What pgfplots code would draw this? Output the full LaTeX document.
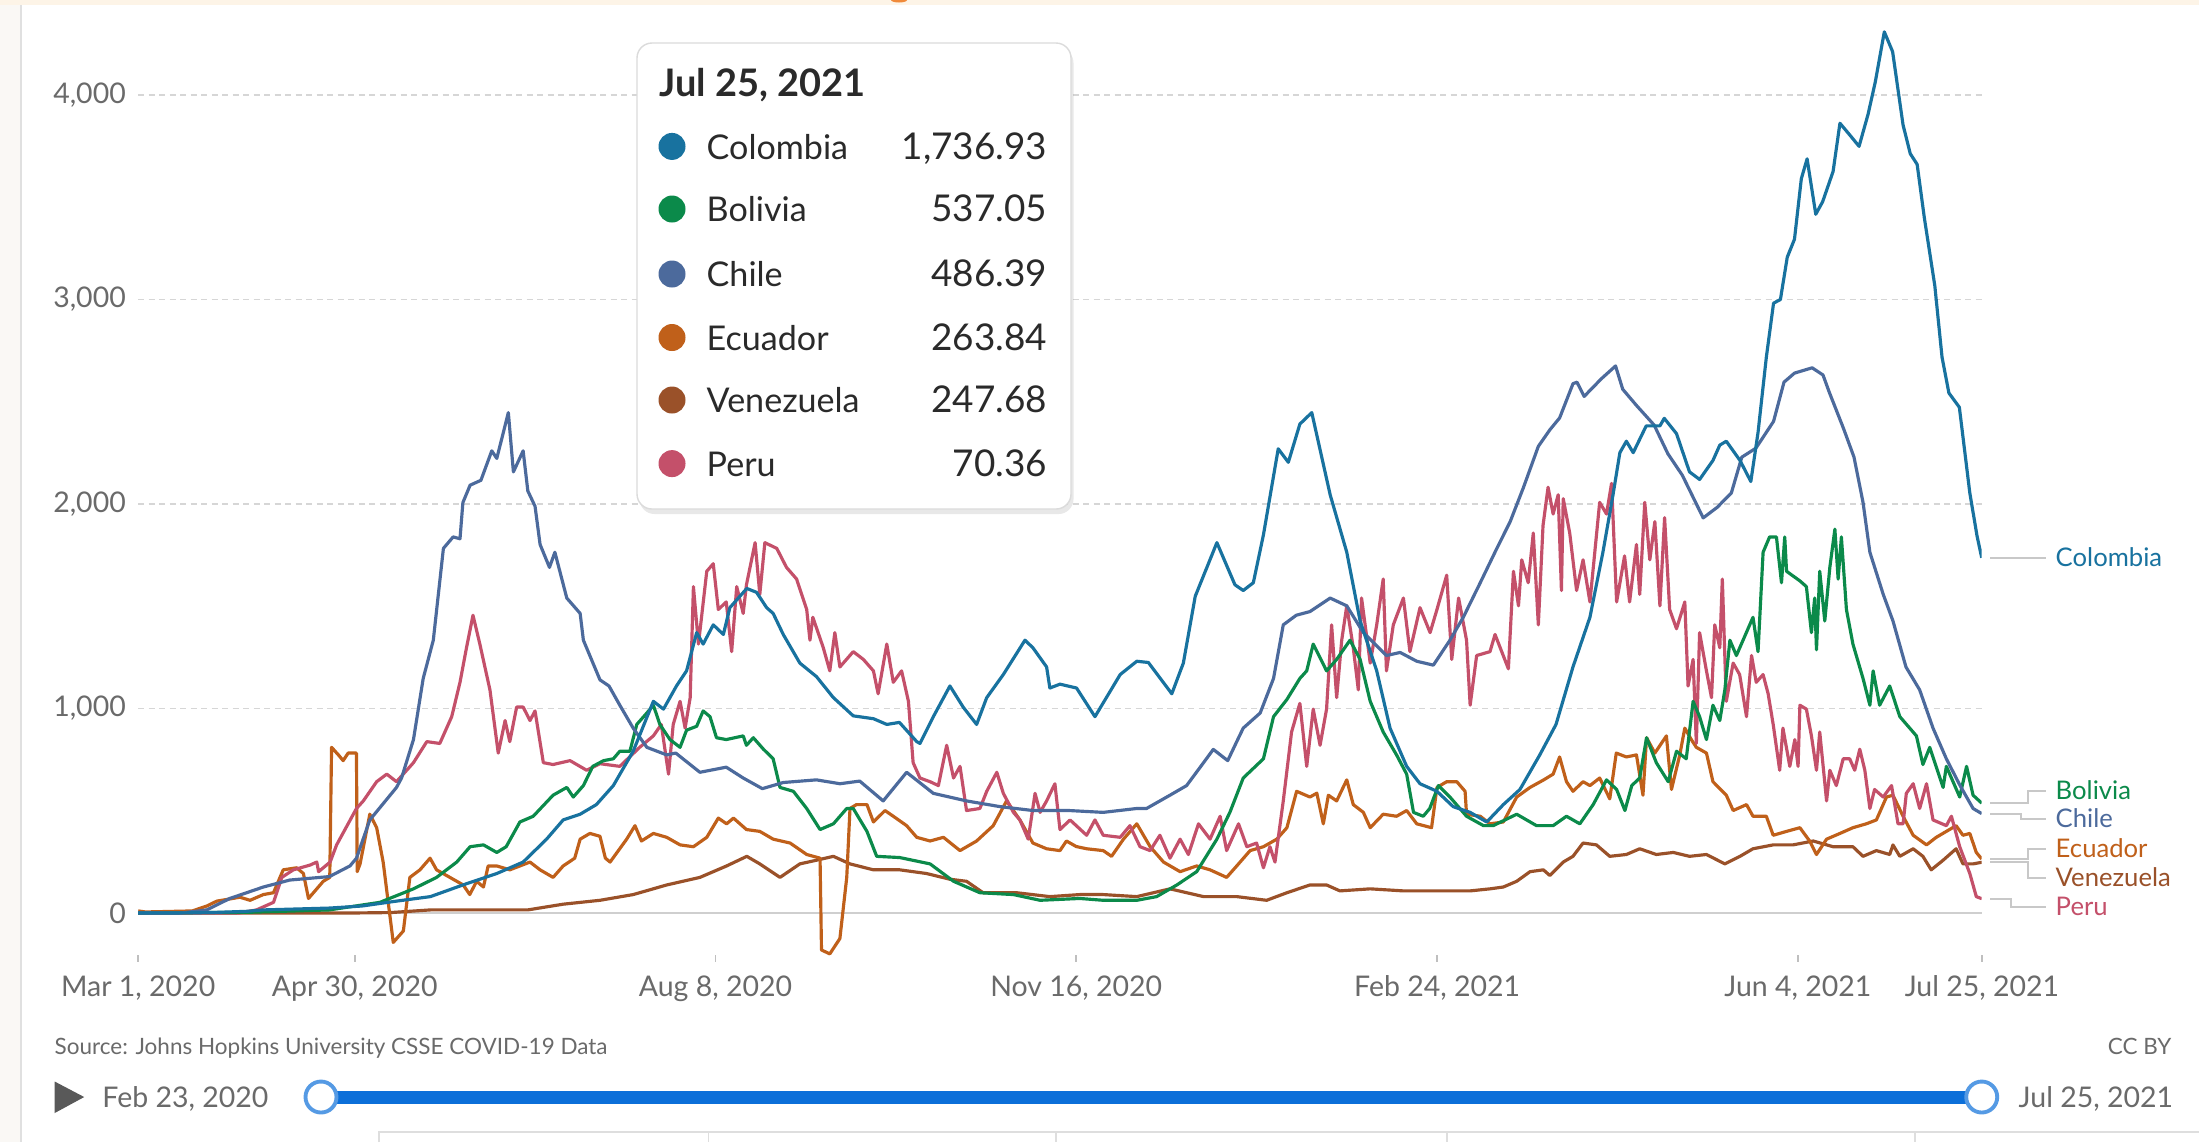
\documentclass[border=0pt]{standalone}
\usepackage{pgfplots}
\pgfplotsset{compat=1.18}
\usepackage{fontspec}
\setmainfont{Lato}
\usetikzlibrary{shadows}
\definecolor{colCo}{HTML}{18729F}
\definecolor{colBo}{HTML}{0B8A4A}
\definecolor{colCh}{HTML}{4C6A9C}
\definecolor{colEc}{HTML}{C0601A}
\definecolor{colVe}{HTML}{9A5129}
\definecolor{colPe}{HTML}{C4506A}
\definecolor{gridgray}{HTML}{D6D6D6}
\definecolor{zerogray}{HTML}{CFCFCF}
\definecolor{labelgray}{HTML}{6A6A6A}
\definecolor{txtdark}{HTML}{2A2A2A}
\definecolor{slider}{HTML}{0C6FD9}
\definecolor{bgcream}{HTML}{FDF4E7}
\definecolor{leftgray}{HTML}{FAF8F5}
\definecolor{leadergray}{HTML}{C8C8C8}
\definecolor{titleorange}{HTML}{F08A3A}
\begin{document}
\begin{tikzpicture}
\useasboundingbox (0,0) rectangle (21.99cm,-11.42cm);
\fill[white] (0,0) rectangle (21.99cm,-11.42cm);
\begin{scope}[x=0.1mm,y=-0.1mm]
 \fill[bgcream] (0,0) rectangle (2199,5);
 \fill[titleorange] (891,0) -- (907,0) arc[start angle=0, end angle=-180, x radius=0.8mm, y radius=0.25mm] -- cycle;
 \fill[leftgray] (0,5) rectangle (21,1142);
 \draw[black!12, line width=0.5pt] (21,5) -- (21,1142);
\end{scope}
\begin{axis}[
 at={(1.382cm,-9.743cm)}, anchor=south west,
 scale only axis, width=18.435cm, height=9.611cm,
 xmin=0, xmax=511, ymin=-300, ymax=4400,
 axis line style={draw=none}, tick style={draw=none},
 xtick=\empty,
 ytick={1000,2000,3000,4000},
 extra y ticks={0},
 extra y tick style={grid style={solid, draw=zerogray, line width=0.7pt}},
 ymajorgrids,
 grid style={draw=gridgray, dash pattern=on 0.6mm off 0.45mm, line width=0.45pt},
 yticklabel style={font=\fontsize{8.1}{9}\selectfont, text=labelgray},
 /pgf/number format/1000 sep={,},
 /pgf/number format/assume math mode=true,
 clip mode=individual,
 every axis plot/.append style={line width=0.9pt, line join=round, mark=none},
]
\addplot[colVe] coordinates {(0,0)(60,0)(70,2)(81,15)(99.4,15)(108,15)(117.8,43)(128,62)(137.2,90)(146.5,137)(155.7,174)(163.1,230)(168.7,277)(172.3,240)(177.9,174)(183.4,240)(188,258)(192.7,277)(197.3,240)(203.8,211)(211.1,211)(218.5,193)(225,165)(229.6,155)(234.2,99)(243.5,99)(252.7,80)(261,90)(267.5,90)(276.8,80)(286,118)(295.3,80)(304.5,80)(312.8,62)(318.4,99)(324.8,137)(329.4,137)(333.1,108)(341.5,118)(350.7,108)(360,108)(369.2,108)(374.7,118)(378.4,127)(382.1,155)(385.8,202)(389.5,211)(391.3,183)(395,249)(397.7,277)(400.5,342)(404.2,333)(407.9,277)(412.5,286)(416.2,314)(420.8,286)(425.5,296)(430,277)(434.7,286)(439.8,240)(444,277)(447.6,314)(453.2,333)(458.7,333)(464.3,352)(469.8,324)(475.3,324)(478.1,277)(481.8,305)(485.5,286)(486.4,333)(488.3,277)(492,314)(494.7,277)(497,211)(500.3,258)(503.9,314)(505.8,240)(508.6,240)(511,248)};
\addplot[colEc] coordinates {(0,10)(2,5)(15,10)(19,34)(21.8,58)(28.2,77)(31,62)(34.7,90)(37.5,99)(40.2,211)(43.9,221)(45.8,193)(47.2,71)(49.5,118)(51.3,155)(53.1,174)(53.6,810)(55.5,773)(56.8,745)(58.2,782)(60.5,782)(60.7,202)(61.5,240)(64.2,483)(66.1,417)(67.9,249)(70.7,-144)(73.5,-88)(75.3,174)(78.1,211)(80.9,268)(82.7,211)(86.4,174)(90.1,137)(91.9,90)(93.8,155)(95.7,127)(97,230)(99.4,230)(103,211)(108.6,249)(111.4,211)(115,174)(117.8,230)(121,268)(122.5,361)(125.2,389)(128,375)(129.5,268)(130.8,249)(135.4,361)(137.7,427)(139.5,352)(142.8,389)(146.5,370)(150.2,333)(153.9,324)(157.6,370)(160.8,464)(163.1,436)(165,464)(168.6,408)(172.3,399)(176,361)(180.7,342)(185.3,286)(189,268)(189.4,-181)(191.7,-200)(194.5,-125)(196.4,174)(197.3,511)(199.1,530)(202,530)(203.8,445)(207,501)(209.3,473)(213,427)(215.8,370)(219.5,352)(223.2,370)(227.8,305)(232.4,352)(237,427)(240.7,548)(244.4,455)(248,342)(251.8,314)(255.5,305)(257.3,352)(260,325)(262.9,314)(267.5,305)(269.8,277)(273.1,361)(276.8,436)(280.5,324)(284.2,249)(288.8,202)(293.4,230)(297.1,211)(301.7,174)(304.5,230)(308.2,305)(311.9,324)(315.6,361)(318.4,417)(321.1,595)(324.8,567)(326.7,586)(328.5,436)(329.9,576)(332.2,548)(335,651)(336.8,530)(339.6,492)(341.5,417)(345.1,483)(348.8,473)(351.6,501)(354.4,436)(358.5,417)(360,614)(362.7,642)(365.5,642)(367.8,595)(368.2,483)(372,473)(374.7,436)(378.4,445)(382.1,567)(385.8,614)(389.5,650)(392.2,679)(394,763)(395.9,642)(397.7,595)(400.5,642)(402.4,623)(405.1,660)(407.9,558)(409.7,782)(412.5,763)(415.3,773)(417.1,576)(418.1,857)(420.4,782)(423.6,866)(425,604)(427.3,773)(428.7,904)(430.5,848)(431.9,810)(434.7,782)(436.5,642)(440.2,576)(442.1,501)(445.8,530)(447.6,473)(451.3,473)(453.2,380)(456.9,399)(460.6,417)(463.3,352)(465.2,286)(468,361)(471.7,389)(475.3,417)(479,436)(481.8,455)(484.6,567)(486.4,576)(489.2,473)(492,380)(495.7,333)(498.4,370)(501.2,399)(503.9,427)(505.8,380)(507.7,389)(509.5,296)(511,264)};
\addplot[colPe] coordinates {(0,0)(28,0)(32.8,15)(37.5,52)(39.8,174)(43,211)(47.6,234)(49.5,249)(50,202)(53.2,249)(55,333)(60.5,511)(62.4,548)(66.1,642)(68.9,679)(71.6,642)(76.3,735)(80,838)(83.6,829)(86.9,960)(89.2,1128)(91,1297)(92.8,1456)(94.7,1315)(97.5,1091)(99.8,782)(101.7,941)(103,838)(104.9,1007)(106.7,1007)(108.6,941)(110,988)(112.3,735)(115,726)(119.7,745)(124.3,698)(128,730)(133.5,717)(139,810)(142.8,866)(145,922)(147,679)(148.3,922)(150.2,1035)(151.6,904)(153,1053)(153.9,1596)(155.3,1315)(157.6,1671)(159.4,1708)(160.8,1484)(163,1521)(164.5,1278)(165.9,1596)(167.7,1465)(168.6,1605)(171,1811)(172.3,1558)(173.7,1811)(177,1783)(179.7,1690)(182.5,1633)(185.3,1484)(186.2,1334)(187,1446)(189.9,1297)(191.7,1184)(193.1,1371)(194.5,1203)(198.2,1278)(201,1240)(203.8,1184)(205.1,1072)(207.5,1315)(209.3,1128)(211.6,1184)(213.5,1035)(214.8,735)(216.7,660)(219.5,642)(221.8,623)(224.1,820)(226,660)(227.8,717)(229.6,501)(233.3,511)(235.2,595)(238,688)(239.8,585)(242.6,492)(244.4,455)(246.7,361)(248.6,585)(250,492)(251.8,548)(254.1,632)(255.5,408)(258.3,455)(262.9,380)(265.2,455)(267.5,380)(272.2,370)(274.9,427)(277.7,324)(280.5,305)(283.2,380)(286,268)(288.8,361)(291.1,286)(293.9,436)(297.1,361)(299.9,473)(301.7,305)(305,436)(307.3,324)(310,342)(311.9,221)(313.7,324)(315.1,249)(317.4,548)(319.7,885)(322,1025)(323.9,717)(325.7,997)(327.6,820)(329.4,997)(330.8,1409)(332.2,1053)(333.6,1334)(335,1502)(336.8,1297)(338.2,1091)(339.1,1540)(341.5,1222)(343.3,1409)(345.1,1633)(346,1184)(347.9,1409)(350.7,1540)(352.5,1278)(355.3,1493)(358.1,1371)(360,1484)(362.7,1652)(364.1,1240)(366,1540)(368.2,1334)(369.2,1016)(371,1259)(374.7,1278)(376.1,1362)(379.8,1194)(381.2,1671)(382.6,1502)(383.5,1727)(385.3,1615)(386.7,1858)(388.1,1409)(389.4,1895)(390.8,2082)(392.2,1951)(393.6,2045)(394.5,1577)(395,2026)(396.8,1858)(398.7,1577)(400.5,1727)(402.4,1521)(405.1,2008)(407,1951)(408.4,2101)(409.8,1521)(412,1746)(413.4,1521)(415.3,1802)(416.2,1558)(417.6,2008)(419,1727)(420.4,1914)(421.8,1502)(423.1,1933)(424.5,1484)(426.4,1390)(428.7,1521)(429.6,1110)(431,1240)(431.9,829)(432.8,1371)(434.7,1184)(436.1,1053)(437,1409)(438.4,1297)(439.1,1633)(440.2,1035)(442.1,1222)(443.9,1166)(445.8,960)(447.2,1259)(448.5,1128)(450.4,1166)(451.8,1072)(453.2,922)(455,698)(455.9,904)(457.8,717)(459.2,848)(460.1,717)(460.6,1016)(462.4,997)(463.8,866)(465.2,698)(466.1,885)(468,548)(468.9,698)(470.7,623)(472.6,754)(474.4,754)(475.8,698)(477.2,801)(478.6,698)(480,511)(481.3,604)(483.7,567)(486,623)(487.8,436)(489.2,436)(490.1,585)(492,632)(493.8,511)(495.7,632)(497.5,455)(501.2,427)(502.6,473)(504.9,324)(507.7,193)(509.5,80)(511,70)};
\addplot[colBo] coordinates {(0,0)(30,3)(53,15)(67,52)(76.3,118)(82.7,174)(88.3,249)(92,324)(95.7,333)(99.4,296)(102,324)(105.8,445)(109.5,473)(115,576)(118.8,614)(120.6,567)(123.4,623)(126,717)(129,745)(131.7,754)(133.5,791)(136.3,791)(138.2,922)(141,978)(142.8,1016)(144.6,922)(147.4,848)(150.2,810)(152,894)(154.8,913)(156.6,988)(158.5,960)(160.3,857)(163,848)(167.7,866)(168.6,820)(170.5,857)(173.3,801)(176,754)(177.9,614)(181.6,595)(185.3,511)(189,408)(192.7,436)(196.4,511)(198.2,511)(202,399)(204.7,277)(211.1,271)(219.5,240)(226,155)(233.3,99)(242.6,90)(250,62)(261,71)(267.5,62)(276.8,62)(282.3,80)(287.9,137)(293.4,202)(299,361)(302.6,492)(306.3,660)(311.9,754)(314.7,960)(318.4,1044)(322,1147)(323.9,1184)(325.7,1315)(329.4,1184)(332.2,1240)(335.9,1334)(338.7,1240)(341.5,1035)(345.1,885)(348.8,773)(351.6,679)(353.5,492)(356.2,473)(358,511)(360.4,623)(363.6,567)(368.2,473)(372.9,427)(375.6,427)(382.1,483)(387.6,427)(392.2,427)(395.9,473)(399.6,436)(403.3,530)(407,651)(409.8,604)(412.1,501)(414,623)(416.2,660)(418.1,857)(420.8,735)(424.1,642)(426.4,791)(429.1,754)(431,1035)(432.8,960)(434.7,848)(436.5,1016)(438.4,941)(439.8,1091)(441.2,1334)(443,1259)(447.6,1446)(449,1278)(450.4,1764)(452.2,1839)(454.1,1839)(455.5,1615)(456.4,1839)(456.9,1671)(460.6,1624)(462.4,1596)(463.8,1371)(464.7,1540)(465.2,1287)(466.1,1671)(467.5,1428)(468.9,1690)(470.3,1877)(471.2,1633)(472.1,1839)(473.5,1484)(475.3,1315)(478.1,1147)(480,1016)(480.9,1184)(482.7,1016)(485.5,1110)(488.3,960)(492.9,866)(494.7,726)(496.6,810)(500.3,614)(501.2,717)(504.9,567)(506.8,717)(508.6,576)(511,537)};
\addplot[colCh] coordinates {(0,0)(12,0)(19,15)(25.4,71)(34.7,127)(42,161)(53,178)(58.7,230)(60.5,268)(64.2,455)(71.6,614)(73,660)(76.3,848)(79,1147)(81.8,1334)(84.6,1783)(87.3,1839)(89.2,1830)(90,2007)(92,2092)(95,2116)(98,2260)(99.4,2223)(102.6,2447)(104,2157)(106.7,2260)(108,2064)(110,1989)(111.4,1802)(114,1690)(115.5,1764)(118.8,1540)(122.5,1465)(123.4,1334)(128,1140)(130.5,1110)(133.5,1016)(137.2,904)(141,810)(146.5,773)(149,782)(155.7,688)(163,713)(167.7,660)(173,608)(178.8,638)(188,651)(194.5,632)(200,645)(206.5,548)(213,688)(220.4,585)(229.6,548)(238.9,520)(248,501)(258,501)(267.5,492)(276.8,511)(279.5,511)(286,576)(290.6,623)(295.3,735)(298,800)(302,745)(304.5,838)(306.3,904)(311,978)(314.7,1147)(317.4,1409)(321,1456)(324.8,1474)(330.4,1540)(335,1502)(339.6,1371)(346,1259)(349.8,1274)(354.4,1231)(359,1212)(363.6,1334)(367.3,1446)(372,1615)(376.6,1783)(380.3,1914)(384,2082)(388.1,2282)(391.3,2363)(394,2421)(397.7,2588)(398.8,2596)(400.8,2526)(405.6,2613)(409.5,2675)(411.5,2561)(415.3,2482)(420.2,2386)(424,2246)(428,2141)(433.8,1932)(437.7,1984)(441.6,2054)(444.5,2229)(448.4,2273)(453.3,2404)(456.2,2596)(459.1,2640)(464,2666)(467,2631)(468.8,2544)(472.7,2369)(475.6,2229)(478.1,2008)(480,1764)(483.7,1558)(486.4,1428)(490,1203)(493.8,1091)(497.5,904)(501.2,754)(505,623)(508.6,511)(511,486)};
\addplot[colCo] coordinates {(0,0)(10,0)(20,2)(30,8)(34.7,15)(45,20)(53,24)(62,34)(71.6,58)(81,80)(90,137)(99.4,193)(106.7,249)(113.2,361)(117.8,455)(122.5,483)(127,530)(131.7,623)(137.2,791)(142.8,1035)(145.6,997)(149.2,1110)(152,1184)(154.8,1371)(156.6,1315)(159.4,1409)(162.2,1362)(164,1493)(168.7,1587)(171.4,1568)(174.2,1493)(176,1465)(178.8,1362)(183.4,1222)(188,1156)(192.7,1053)(198.2,964)(203.8,950)(207.5,922)(211,932)(215.8,838)(216.7,829)(220.4,960)(225,1110)(228.7,1006)(232.4,922)(235.2,1053)(239.8,1166)(245.8,1334)(248,1297)(251.8,1203)(252.7,1100)(255.5,1119)(260.1,1100)(265.2,960)(272.2,1166)(276.8,1231)(280,1225)(286.5,1072)(289.7,1222)(293,1549)(299,1811)(304,1605)(306.3,1577)(309.1,1615)(311.9,1849)(316,2270)(318.8,2204)(322,2391)(325.3,2447)(330.4,2045)(335,1764)(338.7,1428)(343.3,1184)(347,904)(351.6,717)(355.3,632)(360,595)(364.5,520)(369.2,492)(373.8,445)(378.4,530)(383,604)(388.5,773)(393,922)(397.7,1203)(402.4,1446)(406,1764)(408.8,2045)(410.7,2251)(412.5,2307)(414.4,2251)(418,2382)(421.8,2382)(423,2419)(426.4,2344)(430,2157)(432.8,2120)(436.5,2213)(438.4,2288)(440.2,2307)(444,2213)(447,2110)(449,2350)(451.3,2718)(453.3,2982)(455.2,3000)(457.1,3207)(459.1,3295)(461,3591)(462.6,3688)(465,3417)(466.9,3478)(469.8,3626)(471.7,3862)(474.6,3801)(477,3749)(479.5,3906)(481.5,4064)(484,4309)(486.3,4212)(489.2,3853)(491.2,3713)(493.1,3661)(495.1,3399)(498,3067)(500,2718)(501.9,2543)(504.8,2473)(507.7,2054)(509.7,1844)(511,1737)};
\end{axis}
\begin{scope}[x=0.1mm,y=-0.1mm]
 % x ticks and labels
 \foreach \xx/\lab in {138.2/{Mar 1, 2020},354.7/{Apr 30, 2020},715.5/{Aug 8, 2020},1076.3/{Nov 16, 2020},1437.1/{Feb 24, 2021},1797.9/{Jun 4, 2021},1981.9/{Jul 25, 2021}}{
  \draw[black!25, line width=0.5pt] (\xx,955) -- (\xx,962);
  \node[font=\fontsize{8.1}{9}\selectfont, text=labelgray, text height=0.72em, text depth=0pt, inner sep=0pt, anchor=center] at (\xx,984) {\lab};
 }
 % tooltip
 \fill[white, draw=black!14, line width=0.4pt, rounded corners=1.5mm, drop shadow={shadow xshift=0.25mm, shadow yshift=-0.5mm, opacity=0.18}] (637,43) rectangle (1071,509);
 \node[font=\fontsize{10.8}{12}\selectfont\bfseries, text=txtdark, anchor=west, inner sep=0pt, text height=0.72em, text depth=0pt] at (659,84) {Jul 25, 2021};
 \foreach \yy/\cc/\nm/\val in {146.4/colCo/Colombia/{1,736.93},209/colBo/Bolivia/537.05,274/colCh/Chile/486.39,337.5/colEc/Ecuador/263.84,400/colVe/Venezuela/247.68,463.6/colPe/Peru/70.36}{
  \fill[\cc] (672,\yy) circle[radius=1.35mm];
  \node[font=\fontsize{9.7}{11}\selectfont, text=txtdark, anchor=west, inner sep=0pt, text height=0.72em, text depth=0pt] at (706,\yy) {\nm};
  \node[font=\fontsize{10.5}{12}\selectfont, text=txtdark, anchor=east, inner sep=0pt, text height=0.72em, text depth=0pt] at (1048,\yy) {\val};
 }
 % leader lines
 \draw[leadergray, line width=0.5pt] (1990,558) -- (2046,558);
 \draw[leadergray, line width=0.5pt] (1990,803) -- (2028,803) -- (2028,791) -- (2046,791);
 \draw[leadergray, line width=0.5pt] (1990,814) -- (2021,814) -- (2021,819) -- (2046,819);
 \draw[leadergray, line width=0.5pt] (1990,859) -- (2028,859) -- (2028,849) -- (2046,849);
 \draw[leadergray, line width=0.5pt] (1990,862) -- (2028,862) -- (2028,878) -- (2046,878);
 \draw[leadergray, line width=0.5pt] (1990,899) -- (2011,899) -- (2011,907) -- (2046,907);
 \foreach \yy/\cc/\nm in {558/colCo/Colombia,791/colBo/Bolivia,819/colCh/Chile,849/colEc/Ecuador,878/colVe/Venezuela,907/colPe/Peru}{
  \node[font=\fontsize{7.3}{8}\selectfont, text=\cc, anchor=west, inner sep=0pt, text height=0.72em, text depth=0pt] at (2055,\yy-4) {\nm};
 }
 % source and license
 \node[font=\fontsize{6.4}{7}\selectfont, text=labelgray, anchor=west, inner sep=0pt, text height=0.72em, text depth=0pt] at (54,1042) {Source: Johns Hopkins University CSSE COVID-19 Data};
 \node[font=\fontsize{6.4}{7}\selectfont, text=labelgray, anchor=east, inner sep=0pt, text height=0.72em, text depth=0pt] at (2172,1042) {CC BY};
 % slider
 \fill[black!65] (54.7,1081.5) -- (84.2,1097) -- (54.7,1113) -- cycle;
 \node[font=\fontsize{8.1}{9}\selectfont, text=labelgray, anchor=west, inner sep=0pt, text height=0.72em, text depth=0pt] at (101.7,1094.5) {Feb 23, 2020};
 \fill[slider] (321,1090.5) rectangle (1981.7,1103.5);
 \draw[slider!70, line width=1.1pt, fill=white] (321,1097) circle[radius=1.55mm];
 \draw[slider!70, line width=1.1pt, fill=white] (1981.7,1097) circle[radius=1.55mm];
 \node[font=\fontsize{8.1}{9}\selectfont, text=labelgray, anchor=west, inner sep=0pt, text height=0.72em, text depth=0pt] at (2018,1094.5) {Jul 25, 2021};
 % bottom tab lines
 \draw[black!13, line width=0.5pt] (379,1142) -- (379,1132) -- (2199,1132);
 \foreach \xx in {708.5,1056,1447,1915}{\draw[black!13, line width=0.5pt] (\xx,1132) -- (\xx,1142);}
\end{scope}
\end{tikzpicture}
\end{document}
